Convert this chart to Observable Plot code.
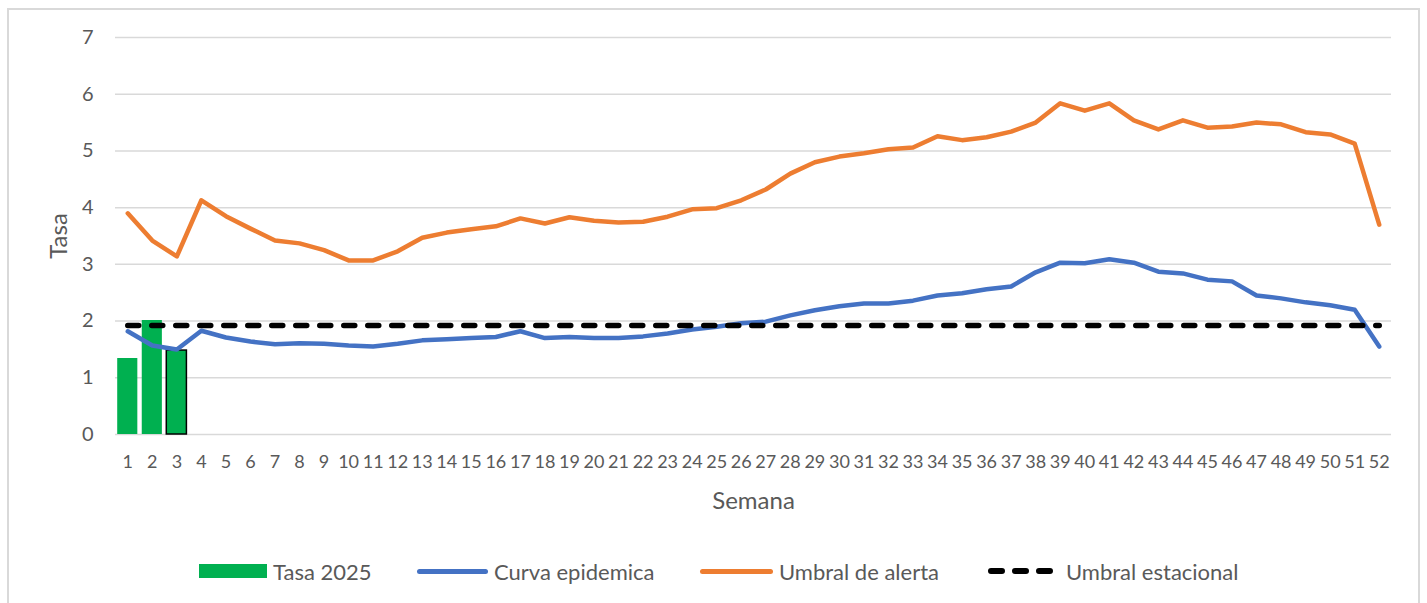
<!DOCTYPE html>
<html>
<head>
<meta charset="utf-8">
<script src="https://cdn.jsdelivr.net/npm/d3@7"></script>
<script src="https://cdn.jsdelivr.net/npm/@observablehq/plot@0.6"></script>
<style>
  html, body { margin: 0; padding: 0; background: #fff; }
  body { width: 1427px; height: 603px; position: relative; overflow: hidden; font-family: Lato, sans-serif; }
  #frame { position: absolute; left: 7px; top: 8px; width: 1413px; height: 640px; border: 2px solid #d9d9d9; box-sizing: border-box; pointer-events: none; }
  #chart { position: absolute; left: 0; top: 0; }
  #legend { position: absolute; left: 0; top: 0; width: 1427px; height: 603px; pointer-events: none; }
  .li { position: absolute; top: 558px; height: 26px; display: flex; align-items: center; font-size: 22px; color: #595959; white-space: nowrap; }
  .sw { display: inline-block; margin-right: 6px; }
</style>
</head>
<body>
<div id="chart"></div>
<div id="legend"></div>
<div id="frame"></div>
<script>
const semanas = Array.from({length: 52}, (_, i) => i + 1);
const tasa2025 = [1.34, 2.01, 1.48];
const curvaEpidemica = [1.82, 1.57, 1.50, 1.83, 1.71, 1.64, 1.59, 1.61, 1.60, 1.57,
  1.55, 1.60, 1.66, 1.68, 1.70, 1.72, 1.82, 1.70, 1.72, 1.70,
  1.70, 1.73, 1.78, 1.85, 1.90, 1.96, 1.99, 2.10, 2.19, 2.26,
  2.31, 2.31, 2.36, 2.45, 2.49, 2.56, 2.61, 2.86, 3.03, 3.02,
  3.09, 3.03, 2.87, 2.84, 2.73, 2.70, 2.45, 2.40, 2.33, 2.28,
  2.20, 1.55];
const umbralAlerta = [3.90, 3.42, 3.14, 4.13, 3.85, 3.63, 3.42, 3.37, 3.25, 3.07,
  3.07, 3.23, 3.47, 3.56, 3.62, 3.67, 3.81, 3.72, 3.83, 3.77,
  3.74, 3.75, 3.84, 3.97, 3.99, 4.13, 4.32, 4.60, 4.80, 4.90,
  4.96, 5.03, 5.06, 5.26, 5.19, 5.24, 5.34, 5.50, 5.84, 5.71,
  5.84, 5.54, 5.38, 5.54, 5.41, 5.43, 5.50, 5.47, 5.33, 5.29,
  5.13, 3.70];
const umbralEstacional = [1.92, 1.92, 1.92, 1.92, 1.92, 1.92, 1.92, 1.92, 1.92, 1.92,
  1.92, 1.92, 1.92, 1.92, 1.92, 1.92, 1.92, 1.92, 1.92, 1.92,
  1.92, 1.92, 1.92, 1.92, 1.92, 1.92, 1.92, 1.92, 1.92, 1.92,
  1.92, 1.92, 1.92, 1.92, 1.92, 1.92, 1.92, 1.92, 1.92, 1.92,
  1.92, 1.92, 1.92, 1.92, 1.92, 1.92, 1.92, 1.92, 1.92, 1.92,
  1.92, 1.92];
const yTicks = [0, 1, 2, 3, 4, 5, 6, 7];
const legendLabels = ["Tasa 2025", "Curva epidemica", "Umbral de alerta", "Umbral estacional"];

const colors = {green: "#00b050", blue: "#4472c4", orange: "#ed7d31", black: "#000000", grid: "#d9d9d9", text: "#595959"};

const bars = tasa2025.map((v, i) => ({semana: semanas[i], v, last: i === tasa2025.length - 1}));
const curva = semanas.map((s, i) => ({semana: s, v: curvaEpidemica[i]}));
const alerta = semanas.map((s, i) => ({semana: s, v: umbralAlerta[i]}));
const estacional = semanas.map((s, i) => ({semana: s, v: umbralEstacional[i]}));

const chart = Plot.plot({
  width: 1427,
  height: 520,
  marginLeft: 115,
  marginRight: 36,
  marginTop: 37,
  marginBottom: 86,
  style: {fontFamily: "Lato, sans-serif", background: "transparent", color: colors.text},
  x: {type: "band", domain: semanas, paddingInner: 0.18, paddingOuter: 0.09, round: false, label: null},
  y: {domain: [0, 7], label: null},
  marks: [
    Plot.ruleY(yTicks, {stroke: colors.grid, strokeWidth: 1.5}),
    Plot.barY(bars, {x: "semana", y: "v", fill: colors.green, stroke: d => d.last ? "#000" : "none", strokeWidth: 1.5}),
    Plot.line(alerta, {x: "semana", y: "v", stroke: colors.orange, strokeWidth: 4.5, strokeLinejoin: "round", strokeLinecap: "round"}),
    Plot.line(curva, {x: "semana", y: "v", stroke: colors.blue, strokeWidth: 4.5, strokeLinejoin: "round", strokeLinecap: "round"}),
    Plot.line(estacional, {x: "semana", y: "v", stroke: colors.black, strokeWidth: 5.5, strokeDasharray: "11 13", strokeLinecap: "round"}),
    Plot.axisX({tickSize: 0, tickPadding: 21, fontSize: 18, fill: colors.text, label: "Semana", labelAnchor: "center", labelOffset: 74, labelArrow: "none"}),
    Plot.axisY(yTicks, {tickSize: 0, tickPadding: 22, fontSize: 20, fill: colors.text, tickFormat: "d", label: "Tasa", labelAnchor: "center", labelOffset: 66, labelArrow: "none"})
  ]
});
chart.querySelectorAll("g[aria-label='x-axis label'] text, g[aria-label='y-axis label'] text").forEach(t => {
  t.setAttribute("font-size", "24");
  t.style.fontSize = "24px";
});
document.getElementById("chart").appendChild(chart);

// Legend
const legend = document.getElementById("legend");
const items = [
  {label: legendLabels[0], left: 199, swatch: `<span class="sw" style="width:68px;height:14px;background:${colors.green}"></span>`},
  {label: legendLabels[1], left: 417, swatch: `<span class="sw" style="width:71px;height:5px;border-radius:3px;background:${colors.blue}"></span>`},
  {label: legendLabels[2], left: 700, swatch: `<span class="sw" style="width:73px;height:5px;border-radius:3px;background:${colors.orange}"></span>`},
  {label: legendLabels[3], left: 987, swatch: `<svg class="sw" width="66" height="8" style="margin-right:13px"><line x1="4" x2="64" y1="4" y2="4" stroke="#000" stroke-width="6" stroke-linecap="round" stroke-dasharray="11 13"/></svg>`}
];
for (const it of items) {
  const d = document.createElement("div");
  d.className = "li";
  d.style.left = it.left + "px";
  d.innerHTML = it.swatch + `<span>${it.label}</span>`;
  legend.appendChild(d);
}
</script>
</body>
</html>
